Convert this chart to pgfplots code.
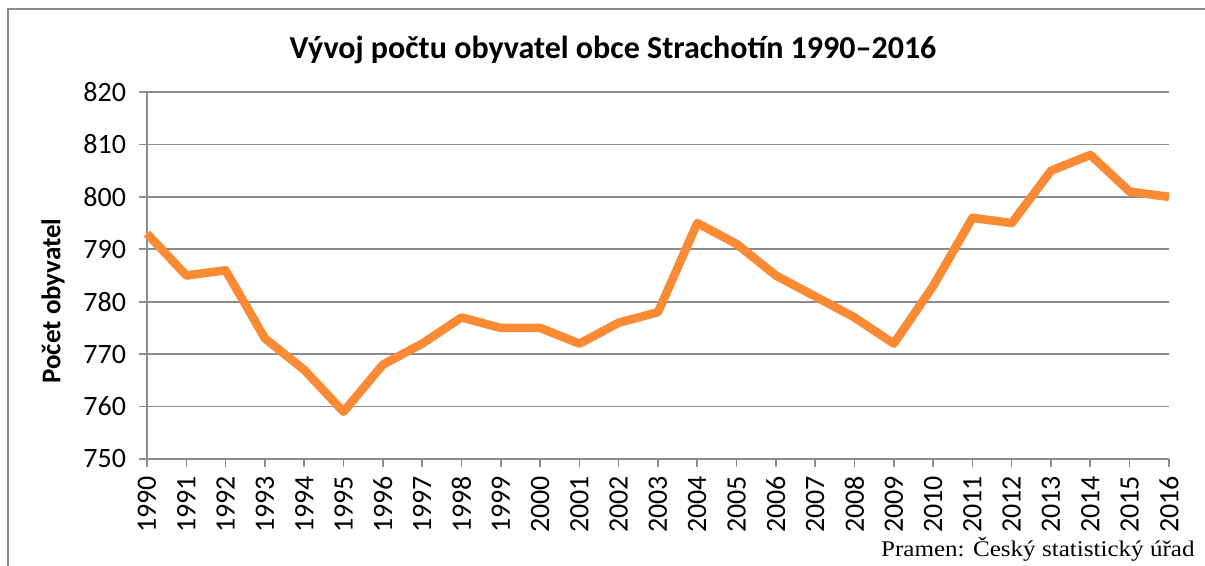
\documentclass[border=0pt]{standalone}
\usepackage{pgfplots}
\pgfplotsset{compat=1.18}
\usepackage{fontspec}
\setmainfont{Carlito}
\newfontfamily\seriffont[FakeStretch=1.12]{Liberation Serif}
\definecolor{lineor}{HTML}{FB8A35}
\definecolor{gridg}{HTML}{8C8C8C}
\begin{document}
\begin{tikzpicture}
\useasboundingbox (0pt,0pt) rectangle (602.5pt,-283pt);
\draw[gridg,line width=0.8pt] (4pt,-290pt) -- (4pt,-4.5pt) -- (610pt,-4.5pt);
\begin{axis}[
  at={(73.5pt,-229.5pt)}, anchor=south west,
  scale only axis, width=511pt, height=183.5pt,
  xmin=1990, xmax=2016, ymin=750, ymax=820,
  xtick={1990,...,2016}, ytick={750,760,...,820},
  axis lines*=left,
  axis line style={gridg,line width=0.8pt,-},
  tick style={gridg,line width=0.8pt},
  tick align=outside, major tick length=4pt,
  ymajorgrids, grid style={gridg,line width=0.8pt},
  xticklabel style={rotate=90,anchor=east,font=\fontsize{14}{14}\selectfont,xshift=-1pt},
  yticklabel style={font=\fontsize{14}{14}\selectfont,xshift=-3pt},
  /pgf/number format/assume math mode=true,
  /pgf/number format/1000 sep={},
  clip=false,
]
\addplot[lineor,line width=4.3pt,line join=round] coordinates {
(1990,793)(1991,785)(1992,786)(1993,773)(1994,767)(1995,759)(1996,768)(1997,772)(1998,777)(1999,775)(2000,775)(2001,772)(2002,776)(2003,778)(2004,795)(2005,791)(2006,785)(2007,781)(2008,777)(2009,772)(2010,783)(2011,796)(2012,795)(2013,805)(2014,808)(2015,801)(2016,800)
};
\end{axis}
\node[font=\bfseries\fontsize{16}{16}\selectfont] at (306.5pt,-25pt) {Vývoj počtu obyvatel obce Strachotín 1990–2016};
\node[font=\bfseries\fontsize{13.5}{13.5}\selectfont,rotate=90] at (26.5pt,-150.5pt) {Počet obyvatel};
\node[font=\seriffont\fontsize{11.2}{11.2}\selectfont,anchor=base east,inner sep=0pt] at (597.5pt,-278pt) {Pramen: Český statistický úřad};
\end{tikzpicture}
\end{document}
